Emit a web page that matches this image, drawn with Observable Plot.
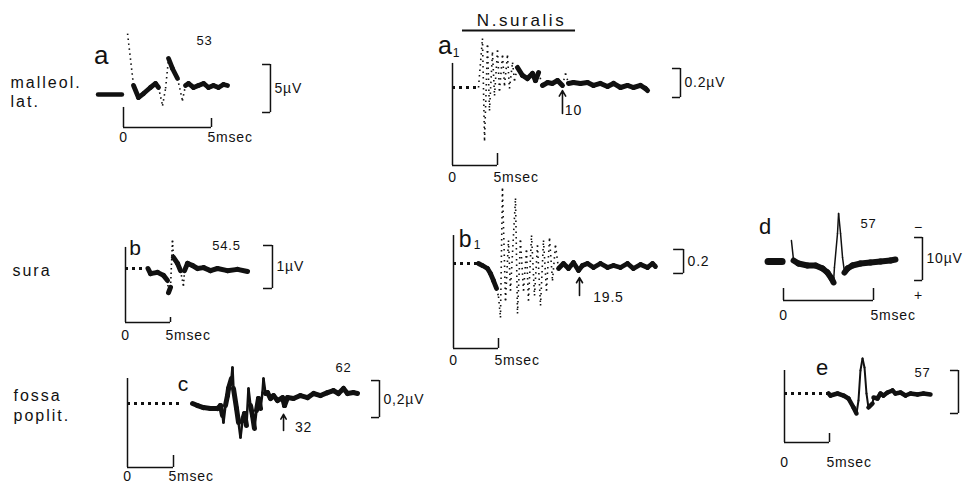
<!DOCTYPE html>
<html><head><meta charset="utf-8">
<script src="https://cdn.jsdelivr.net/npm/d3@7"></script>
<script src="https://cdn.jsdelivr.net/npm/@observablehq/plot@0.6"></script>
<style>
body{margin:0;background:#fff;}
#fig{position:relative;width:965px;height:484px;overflow:hidden;background:#fff;}
#fig svg{position:absolute;overflow:visible;background:transparent;}
#fig svg text{letter-spacing:0.8px;}
</style></head><body><div id="fig"></div>
<script>
// ---- Trace data: time (msec) and potential (µV) ----
const aT = [0.23, 0.57, 0.85, 1.14, 1.53, 1.82, 1.99, 2.22, 2.39, 2.56, 2.78, 3.07, 3.35, 3.52, 3.69, 3.98, 4.26, 4.55, 4.83, 5.11, 5.40, 5.68, 5.91];
const aV = [6.35, 0.94, -0.31, 0.10, 0.73, 1.15, 0.73, -1.15, 0.63, 3.75, 2.71, 1.67, -0.63, 0.94, 1.15, 0.73, 0.94, 1.15, 0.73, 0.94, 0.73, 1.04, 0.94];

const bT = [2.5, 2.78, 3.56, 4.22, 4.67, 4.78, 5.0, 5.22, 5.33, 5.78, 6.11, 6.44, 6.56, 6.89, 7.44, 8.0, 8.67, 9.44, 10.22, 11.33, 12.44, 13.56];
const bV = [0, -0.12, -0.09, -0.16, -0.28, -0.56, -0.44, 0.65, 0.26, 0.12, -0.05, -0.40, -0.05, 0.12, 0.07, 0, 0.02, -0.05, 0, -0.05, -0.02, -0.07];

const cT = [7.07, 7.61, 8.26, 9.02, 9.78, 10.11, 10.33, 10.43, 10.65, 10.87, 10.98, 11.30, 11.41, 11.52, 11.85, 12.07, 12.28, 12.50, 12.72, 12.93, 13.15, 13.37, 13.59, 13.80, 14.02, 14.24, 14.46, 14.67, 14.78, 15.0, 15.22, 15.54, 15.87, 16.30, 16.85, 17.07, 17.39, 18.04, 18.80, 19.57, 20.22, 20.98, 21.74, 22.39, 22.93, 23.48, 23.91, 24.57, 25.0];
const cV = [0, -0.011, -0.022, -0.027, -0.027, -0.011, -0.065, -0.103, -0.011, 0.043, 0.081, 0.135, 0.195, 0.081, -0.027, -0.103, -0.184, -0.092, -0.054, -0.119, 0.081, -0.011, -0.065, -0.135, -0.038, 0.027, -0.027, 0.059, 0.135, 0.054, 0.059, 0.027, 0.043, 0.016, 0.032, -0.011, 0.032, 0.027, 0.043, 0.032, 0.054, 0.043, 0.059, 0.070, 0.054, 0.081, 0.054, 0.059, 0.054];

const a1T = [2.89, 3.33, 3.56, 3.89, 4.11, 4.44, 4.67, 5.0, 5.22, 5.56, 5.78, 6.11, 6.33, 6.67, 6.89, 7.22, 7.78, 8.33, 8.89, 9.22, 9.56, 10.0, 10.56, 11.11, 11.67, 12.22, 12.56, 12.89, 13.44, 14.22, 15.0, 15.67, 16.44, 17.22, 17.89, 18.67, 19.44, 20.11, 20.89, 21.44, 21.67];
const a1V = [0, 0.338, -0.366, 0.29, -0.159, 0.241, -0.055, 0.255, -0.021, 0.221, 0.014, 0.221, -0.007, 0.172, 0.048, 0.138, 0.083, 0.062, 0.097, 0.048, 0.103, 0.014, 0.034, 0.028, 0.048, 0.014, 0.097, 0.028, 0.034, 0.028, 0.034, 0.014, 0.028, 0.007, 0.028, 0, 0.014, 0, 0.014, -0.007, -0.021];

const b1T = [2.78, 3.22, 3.78, 4.11, 4.44, 4.78, 5.0, 5.22, 5.44, 5.78, 6.11, 6.33, 6.89, 7.11, 7.44, 7.78, 8.11, 8.33, 8.67, 9.0, 9.33, 9.67, 10.0, 10.33, 10.67, 11.0, 11.33, 11.67, 12.22, 12.78, 13.33, 13.89, 14.33, 14.89, 15.56, 16.33, 17.11, 17.78, 18.56, 19.33, 20.0, 20.78, 21.56, 22.11, 22.44];
const b1V = [0, -0.017, -0.042, -0.083, -0.142, -0.208, -0.275, -0.45, 0.625, -0.308, 0.192, -0.225, 0.542, -0.417, 0.192, -0.225, 0.108, -0.308, 0.233, -0.267, 0.15, -0.35, 0.192, -0.225, 0.208, -0.142, 0.15, -0.042, 0, -0.042, 0.008, -0.058, -0.017, 0, -0.033, 0, -0.033, -0.017, -0.033, 0, -0.042, -0.008, -0.033, 0, -0.025];

const dT = [0.44, 0.56, 0.83, 1.33, 1.78, 2.17, 2.44, 2.67, 2.78, 2.83, 3.0, 3.06, 3.17, 3.28, 3.39, 3.56, 3.83, 4.28, 4.83, 5.39, 5.94, 6.22];
const dV = [4.88, 0.23, -0.47, -0.93, -0.93, -1.63, -2.56, -3.95, -4.88, -1.40, 6.51, 11.16, 6.51, 0.93, -2.56, -1.63, -0.93, -0.47, -0.23, 0, 0.23, 0.47];

const eT = [4.9, 5.11, 5.89, 6.56, 7.11, 7.67, 8.0, 8.22, 8.44, 8.67, 8.89, 9.11, 9.33, 9.78, 9.89, 10.33, 10.67, 11.0, 11.44, 12.0, 12.33, 12.89, 13.44, 14.0, 14.78, 15.44, 16.22];
const eV = [0, -0.47, 0, -0.47, -1.16, -3.26, -4.65, -1.63, 5.35, 8.14, 6.05, 0, -3.26, -2.33, -0.93, -1.16, 0, -0.47, 0.23, 0.70, 0, 0.23, -0.47, 0, -0.23, 0, -0.23];

// ---- Labels ----
const timeTicks = ["0", "5msec"];
const scaleLabels = {a: "5µV", b: "1µV", c: "0,2µV", a1: "0.2µV", b1: "0.2", d: "10µV", e: ""};
const scaleValues = {a: 5, b: 1, c: 0.2, a1: 0.2, b1: 0.2, d: 10, e: 10};
const siteLabels = ["malleol.", "lat.", "sura", "fossa", "poplit."];
const nerveLabel = "N.suralis";

// ---- Panel layout (page position of the origin and pixel scale) ----
const panels = [
  {key: "a", t: aT, v: aV, box: [0, 15, 320, 135], origin: [123, 94], kx: 17.6, ky: 9.6,
   lw: 4.8, thr: 3, fastW: 1.6, fastDash: "1.5,3.5", stub: [-1.42, -0.06], stubW: 4.5,
   axis: {v: -3.44, top0: -1.35, top5: -2.5, dy: 10, dx: -4},
   bracket: {t: 8.35, tick: 0.45, v0: -1.875},
   labels: [[siteLabels[0], -6.42, 1.25, 16, "start"], [siteLabels[1], -6.42, -0.73, 16, "start"], ["a", -1.25, 4.06, 26, "middle"], ["53", 4.6, 5.6, 13, "middle"]]},
  {key: "b", t: bT, v: bV, box: [0, 225, 320, 120], origin: [125, 268], kx: 9.0, ky: 43,
   lw: 5, thr: 4, fastW: 1.6, fastDash: "1.5,3", dotted: [0, 2.5],
   axis: {v: -1.256, top0: 0.49, top5: -1.14, dy: 13, dx: -5},
   bracket: {t: 16.33, tick: 1.0, v0: -0.465},
   labels: [[siteLabels[2], -12.56, -0.05, 16, "start"], ["b", 1.11, 0.465, 21, "middle"], ["54.5", 11.22, 0.535, 13, "middle"]]},
  {key: "c", t: cT, v: cV, box: [0, 350, 440, 134], origin: [127, 403], kx: 9.2, ky: 185,
   lw: 5, thr: 7, fastW: 2.5, fastDash: null, dotted: [0, 6.0],
   axis: {v: -0.346, top0: 0.135, top5: -0.281, dy: 9, dx: -5},
   bracket: {t: 27.39, tick: 0.87, v0: -0.076},
   arrow: {t: 16.96, v1: -0.146, v2: -0.059},
   labels: [[siteLabels[3], -12.39, 0.043, 16, "start"], [siteLabels[4], -12.39, -0.065, 16, "start"], ["c", 6.09, 0.103, 21, "middle"], ["62", 23.48, 0.195, 13, "middle"], ["32", 19.13, -0.13, 14, "middle"]]},
  {key: "a1", t: a1T, v: a1V, box: [420, 0, 340, 185], origin: [452, 87], kx: 9.0, ky: 145,
   lw: 5, thr: 3, fastW: 1.6, fastDash: "1.5,4", dotted: [0, 2.9],
   axis: {v: -0.538, top0: 0.166, top5: -0.455, dy: 12, dx: -4},
   bracket: {t: 25.33, tick: 0.89, v0: -0.069},
   arrow: {t: 12.22, v1: -0.179, v2: -0.021},
   underline: {v: 0.393, t1: 1.11, t2: 13.67},
   labels: [[nerveLabel, 7.67, 0.462, 17, "middle"], ["a", -0.78, 0.283, 25, "middle"], ["1", 0.44, 0.234, 12, "middle"], ["10", 13.44, -0.159, 14, "middle"]]},
  {key: "b1", t: b1T, v: b1V, box: [420, 180, 300, 190], origin: [453, 263], kx: 9.0, ky: 120,
   lw: 4.8, thr: 3.5, fastW: 1.6, fastDash: "1.5,4", dotted: [0, 2.8],
   axis: {v: -0.708, top0: 0.233, top5: -0.625, dy: 12, dx: -4},
   bracket: {t: 25.56, tick: 1.1, v0: -0.083},
   arrow: {t: 14.0, v1: -0.267, v2: -0.117},
   labels: [["b", 1.33, 0.2, 23, "middle"], ["1", 2.67, 0.15, 12, "middle"], ["19.5", 17.22, -0.283, 14, "middle"]]},
  {key: "d", t: dT, v: dV, box: [730, 195, 235, 135], origin: [783, 261], kx: 18, ky: 4.3,
   lw: 6, thr: 4, fastW: 1.5, fastDash: null, stub: [-0.83, -0.05], stubW: 7,
   axis: {v: -9.07, top0: -6.28, top5: -6.28, dy: 15, dx: -3},
   bracket: {t: 7.72, tick: 0.44, v0: -4.42},
   labels: [["d", -1.0, 8.14, 22, "middle"], ["57", 4.72, 8.84, 13, "middle"], ["−", 7.5, 7.9, 14, "middle"], ["+", 7.5, -7.9, 14, "middle"]]},
  {key: "e", t: eT, v: eV, box: [730, 340, 235, 144], origin: [784, 393], kx: 9.0, ky: 4.3,
   lw: 4.5, thr: 4, fastW: 2, fastDash: null, dotted: [0, 4.9],
   axis: {v: -11.4, top0: 5.35, top5: -9.3, dy: 20, dx: -3},
   bracket: {t: 19.33, tick: 0.89, v0: -4.65},
   labels: [["e", 4.22, 6.05, 22, "middle"], ["57", 15.33, 4.88, 13, "middle"]]}
];

const INK = "#111";
const FONT = "'Liberation Sans', Arial, sans-serif";

function makePanel(p) {
  const [L, T, W, H] = p.box;
  const [X0, Y0] = p.origin;
  const xDom = [(L - X0) / p.kx, (L + W - X0) / p.kx];
  const yDom = [(Y0 - T - H) / p.ky, (Y0 - T) / p.ky];
  const pts = p.t.map((t, i) => ({t, v: p.v[i]}));
  const segs = [];
  for (let i = 1; i < pts.length; i++) {
    const a = pts[i - 1], b = pts[i];
    const dxp = Math.abs(b.t - a.t) * p.kx, dyp = Math.abs(b.v - a.v) * p.ky;
    segs.push({t1: a.t, v1: a.v, t2: b.t, v2: b.v, fast: dyp > p.thr * dxp});
  }
  const sv = scaleValues[p.key];
  const br = p.bracket;
  const marks = [];
  if (p.dotted) marks.push(Plot.ruleY([0], {x1: p.dotted[0], x2: p.dotted[1], stroke: INK, strokeWidth: 3, strokeDasharray: "3,4"}));
  if (p.stub) marks.push(Plot.ruleY([0], {x1: p.stub[0], x2: p.stub[1], stroke: INK, strokeWidth: p.stubW, strokeLinecap: "round"}));
  marks.push(Plot.link(segs.filter(d => d.fast), {x1: "t1", y1: "v1", x2: "t2", y2: "v2", stroke: INK, strokeWidth: p.fastW, strokeDasharray: p.fastDash || undefined, strokeLinecap: p.fastDash ? "butt" : "round"}));
  marks.push(Plot.link(segs.filter(d => !d.fast), {x1: "t1", y1: "v1", x2: "t2", y2: "v2", stroke: INK, strokeWidth: p.lw, strokeLinecap: "round", strokeLinejoin: "round"}));
  const ax = p.axis;
  marks.push(Plot.ruleY([ax.v], {x1: 0, x2: 5, stroke: INK, strokeWidth: 1.5}));
  marks.push(Plot.ruleX([0], {y1: ax.v, y2: ax.top0, stroke: INK, strokeWidth: 1.5}));
  marks.push(Plot.ruleX([5], {y1: ax.v, y2: ax.top5, stroke: INK, strokeWidth: 1.5}));
  marks.push(Plot.text([timeTicks[0]], {x: 0, y: ax.v, dy: ax.dy, text: d => d, fontSize: 14, fill: INK, textAnchor: "middle"}));
  marks.push(Plot.text([timeTicks[1]], {x: 5, y: ax.v, dy: ax.dy, dx: ax.dx, text: d => d, fontSize: 14, fill: INK, textAnchor: "start"}));
  marks.push(Plot.ruleX([br.t], {y1: br.v0, y2: br.v0 + sv, stroke: INK, strokeWidth: 1.5}));
  marks.push(Plot.ruleY([br.v0, br.v0 + sv], {x1: br.t - br.tick, x2: br.t + 0.01, stroke: INK, strokeWidth: 1.5}));
  if (scaleLabels[p.key]) marks.push(Plot.text([scaleLabels[p.key]], {x: br.t, y: br.v0 + sv / 2, dx: 4, text: d => d, fontSize: 14, fill: INK, textAnchor: "start"}));
  if (p.arrow) marks.push(Plot.arrow([0], {x1: p.arrow.t, x2: p.arrow.t, y1: p.arrow.v1, y2: p.arrow.v2, stroke: INK, strokeWidth: 1.6, headLength: 6}));
  if (p.underline) marks.push(Plot.ruleY([p.underline.v], {x1: p.underline.t1, x2: p.underline.t2, stroke: INK, strokeWidth: 2}));
  for (const [s, t, v, fs, anchor] of p.labels) {
    marks.push(Plot.text([s], {x: t, y: v, text: d => d, fontSize: fs, fill: INK, textAnchor: anchor}));
  }
  const svg = Plot.plot({
    width: W, height: H, margin: 0,
    x: {domain: xDom, axis: null},
    y: {domain: yDom, axis: null},
    style: {fontFamily: FONT, background: "transparent", overflow: "visible", color: INK},
    marks
  });
  svg.style.left = L + "px";
  svg.style.top = T + "px";
  // wider letter spacing for the site and nerve names, as in the reference
  svg.querySelectorAll("text").forEach(el => {
    const s = el.textContent;
    if (siteLabels.includes(s)) el.style.letterSpacing = "2px";
    if (s === nerveLabel) el.style.letterSpacing = "2.6px";
  });
  return svg;
}

const fig = document.getElementById("fig");
for (const p of panels) fig.appendChild(makePanel(p));
</script></body></html>
